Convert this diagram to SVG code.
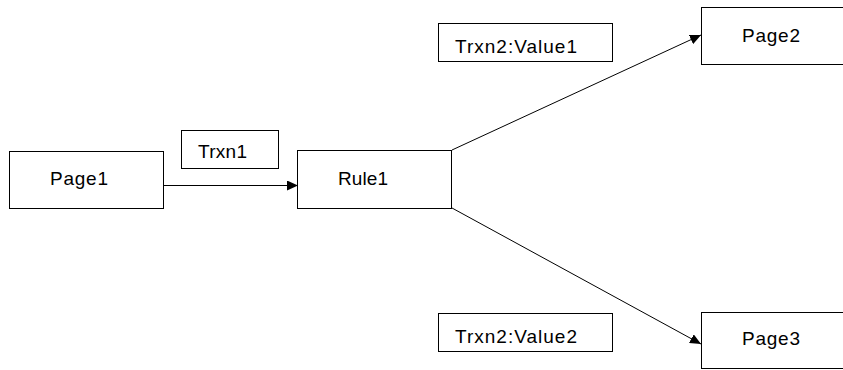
<svg xmlns="http://www.w3.org/2000/svg" width="843" height="370" viewBox="0 0 843 370">
<style>
.box{fill:#fff;stroke:#000;stroke-width:1}
.lbl{font-family:"Liberation Sans",Arial,sans-serif;font-size:19px;fill:#000}
.con{stroke:#000;stroke-width:1;fill:none}
</style>
<defs>
<marker id="arr" markerUnits="userSpaceOnUse" markerWidth="12" markerHeight="10" refX="11" refY="5" orient="auto">
<path d="M0,0 L11,5 L0,10 Z" fill="#000"/>
</marker>
</defs>
<rect width="843" height="370" fill="#fff"/>
<g id="connectors">
<line class="con" x1="163" y1="185.5" x2="298" y2="185.5" marker-end="url(#arr)"/>
<line class="con" x1="452" y1="150" x2="701" y2="35" marker-end="url(#arr)"/>
<line class="con" x1="452" y1="208" x2="701" y2="344" marker-end="url(#arr)"/>
</g>
<g id="page1">
<rect class="box" x="9.5" y="151.5" width="154" height="57"/>
<text class="lbl" x="50" y="184.5" textLength="58">Page1</text>
</g>
<g id="trxn1">
<rect class="box" x="181.5" y="130.5" width="97" height="38"/>
<text class="lbl" x="198" y="157.5" textLength="49">Trxn1</text>
</g>
<g id="rule1">
<rect class="box" x="297.5" y="150.5" width="154" height="58"/>
<text class="lbl" x="338" y="185" textLength="50">Rule1</text>
</g>
<g id="trxn2v1">
<rect class="box" x="438.5" y="23.5" width="174" height="38"/>
<text class="lbl" x="455" y="52.5" textLength="122">Trxn2:Value1</text>
</g>
<g id="page2">
<rect class="box" x="701.5" y="7.5" width="150" height="57"/>
<text class="lbl" x="742" y="41.5" textLength="58">Page2</text>
</g>
<g id="trxn2v2">
<rect class="box" x="438.5" y="313.5" width="174" height="38"/>
<text class="lbl" x="455" y="342.5" textLength="122">Trxn2:Value2</text>
</g>
<g id="page3">
<rect class="box" x="701.5" y="312.5" width="150" height="56"/>
<text class="lbl" x="742" y="345" textLength="58">Page3</text>
</g>
</svg>
